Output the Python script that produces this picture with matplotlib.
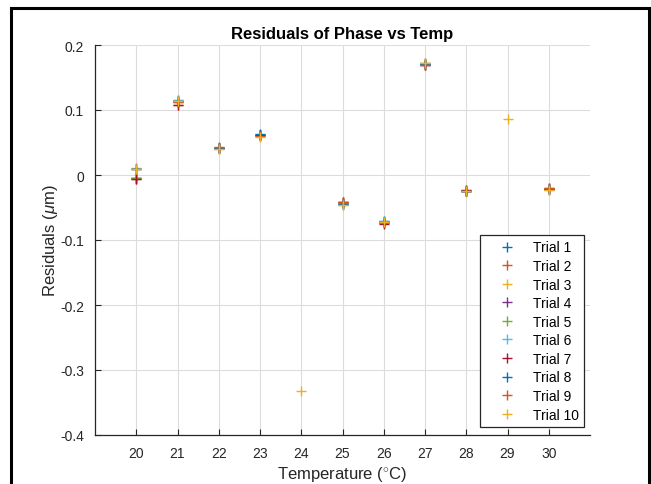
import numpy as np
import matplotlib.pyplot as plt
from matplotlib.patches import Rectangle

plt.rcParams['font.family'] = ['Liberation Sans', 'DejaVu Sans']
plt.rcParams['mathtext.fontset'] = 'custom'
plt.rcParams['mathtext.it'] = 'Liberation Sans:italic'
plt.rcParams['mathtext.rm'] = 'Liberation Sans'

nan = np.nan

# temperatures (deg C)
temps = [20, 21, 22, 23, 24, 25, 26, 27, 28, 29, 30]

# residuals per trial (um)
trial1 = [-0.005, 0.114, 0.041, 0.062, nan, -0.043, -0.071, 0.171, -0.024, nan, -0.022]
trial2 = [-0.006, 0.108, 0.042, 0.061, nan, -0.041, -0.074, 0.170, -0.025, nan, -0.020]
trial3 = [0.010, 0.115, 0.040, 0.060, nan, -0.046, -0.072, 0.172, -0.023, nan, -0.023]
trial4 = [-0.004, 0.113, 0.042, 0.062, nan, -0.044, -0.073, 0.171, -0.024, nan, -0.022]
trial5 = [-0.005, 0.114, 0.041, 0.061, nan, -0.043, -0.072, 0.172, -0.025, nan, -0.021]
trial6 = [0.011, 0.116, 0.042, 0.062, nan, -0.044, -0.071, 0.171, -0.024, nan, -0.022]
trial7 = [-0.006, 0.107, 0.041, 0.061, nan, -0.042, -0.075, 0.170, -0.023, nan, -0.021]
trial8 = [0.010, 0.114, 0.042, 0.063, nan, -0.044, -0.072, 0.171, -0.024, nan, -0.022]
trial9 = [0.009, 0.113, 0.043, 0.060, nan, -0.042, -0.073, 0.170, -0.025, nan, -0.020]
trial10 = [0.010, 0.114, 0.040, 0.059, -0.332, -0.046, -0.072, 0.172, -0.024, 0.086, -0.023]

trials = [trial1, trial2, trial3, trial4, trial5, trial6, trial7, trial8, trial9, trial10]
labels = ["Trial %d" % (i + 1) for i in range(10)]

# matlab default line colors
colors = ["#0072BD", "#D95319", "#EDB120", "#7E2F8E", "#77AC30",
          "#4DBEEE", "#A2142F", "#0072BD", "#D95319", "#EDB120"]

fig = plt.figure(figsize=(6.51, 4.85), dpi=100)
ax = fig.add_axes([95 / 651, 49 / 485, 495 / 651, 390 / 485])

for vals, c, lab in zip(trials, colors, labels):
    ax.plot(temps, vals, linestyle="none", marker="+", markersize=7.5,
            markeredgewidth=1.0, color=c, label=lab)

ax.set_xlim(19, 31)
ax.set_ylim(-0.4, 0.2)
ax.set_xticks(temps)
ax.set_yticks([-0.4, -0.3, -0.2, -0.1, 0, 0.1, 0.2])
ax.set_yticklabels(["-0.4", "-0.3", "-0.2", "-0.1", "0", "0.1", "0.2"])
ax.grid(True, color="#dcdcdc", linewidth=0.8)
ax.set_axisbelow(True)
ax.spines["top"].set_visible(False)
ax.spines["right"].set_visible(False)
for s in ["left", "bottom"]:
    ax.spines[s].set_color("#262626")
    ax.spines[s].set_linewidth(0.9)
ax.tick_params(direction="in", length=4, width=0.8, colors="#262626",
               labelsize=10, pad=8)

ax.set_title("Residuals of Phase vs Temp", fontsize=12, fontweight="bold", pad=5)
ax.set_xlabel("Temperature ($^{\\circ}$C)", fontsize=12, color="#262626", labelpad=3)
ax.set_ylabel("Residuals ($\\mu$m)", fontsize=12, color="#262626", labelpad=0)

leg = ax.legend(loc="lower right", bbox_to_anchor=(0.988, 0.02), borderaxespad=0,
                fontsize=10, labelspacing=0.33, handlelength=3.1, handletextpad=0.3,
                borderpad=0.4, fancybox=False, framealpha=1, edgecolor="#262626")
leg.get_frame().set_linewidth(0.9)

# outer black frame
fig.patches.append(Rectangle((11 / 651, -0.05), 638 / 651, 1.05 - 9 / 485,
                             transform=fig.transFigure, fill=False,
                             edgecolor="black", linewidth=2.2))

fig.savefig("out.png", dpi=100)
